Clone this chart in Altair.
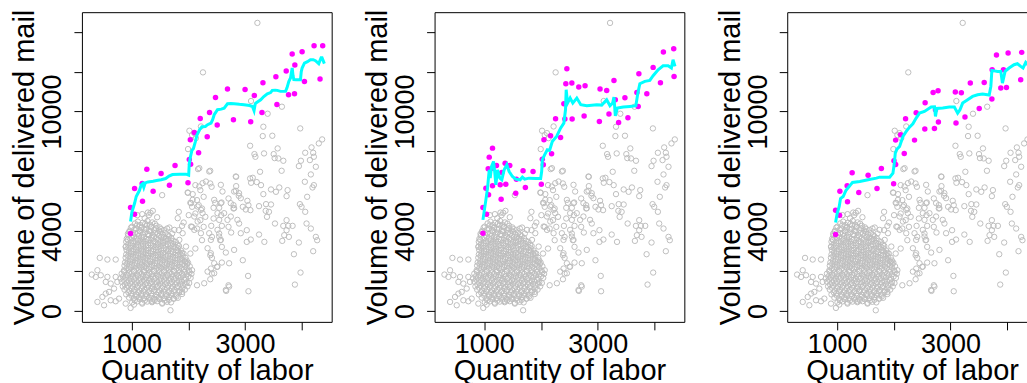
import altair as alt
import pandas as pd

FONT = "Liberation Sans"
X_DOMAIN = [125, 4526]
Y_DOMAIN = [-547, 14981]

# ---- observed offices: (quantity of labor, volume of delivered mail) ----
# dense core of small offices
core_offices = [
    (1110, 4480), (1195, 4420), (1280, 4510), (1365, 4440),
    (1010, 4230), (1095, 4290), (1180, 4210), (1270, 4300), (1350, 4240), (1440, 4270), (1495, 4190),
    (965, 4020), (1050, 4090), (1140, 4040), (1225, 4100), (1310, 4010), (1400, 4080), (1480, 4030), (1570, 4060),
    (935, 3870), (1020, 3820), (1110, 3890), (1195, 3830), (1290, 3860), (1370, 3810), (1460, 3880), (1545, 3840), (1640, 3800),
    (915, 3620), (1000, 3680), (1085, 3630), (1175, 3690), (1260, 3610), (1350, 3670), (1440, 3640), (1520, 3700), (1610, 3620), (1700, 3660),
    (905, 3470), (990, 3420), (1070, 3490), (1160, 3430), (1245, 3480), (1335, 3410), (1420, 3470), (1510, 3440), (1600, 3490), (1685, 3420), (1780, 3460),
    (900, 3230), (985, 3280), (1075, 3220), (1165, 3270), (1250, 3240), (1340, 3290), (1425, 3210), (1515, 3260), (1600, 3230), (1690, 3280), (1775, 3220), (1835, 3260),
    (910, 3070), (995, 3020), (1080, 3080), (1170, 3030), (1255, 3060), (1345, 3010), (1430, 3070), (1520, 3040), (1610, 3080), (1700, 3020), (1785, 3050), (1870, 3030),
    (905, 2830), (990, 2880), (1075, 2820), (1160, 2870), (1250, 2840), (1335, 2890), (1425, 2810), (1510, 2860), (1600, 2830), (1685, 2880), (1775, 2820), (1860, 2850), (1915, 2880),
    (895, 2670), (980, 2620), (1070, 2680), (1155, 2630), (1245, 2660), (1330, 2610), (1420, 2670), (1505, 2640), (1595, 2690), (1680, 2620), (1770, 2660), (1855, 2630), (1950, 2670),
    (885, 2430), (970, 2480), (1060, 2420), (1150, 2470), (1235, 2440), (1325, 2490), (1410, 2410), (1500, 2460), (1590, 2430), (1675, 2480), (1765, 2420), (1850, 2450), (1940, 2480), (1995, 2420),
    (875, 2270), (960, 2220), (1050, 2280), (1140, 2230), (1225, 2260), (1315, 2210), (1400, 2270), (1490, 2240), (1580, 2290), (1665, 2220), (1755, 2260), (1845, 2230), (1935, 2270), (2025, 2240),
    (865, 2030), (950, 2080), (1040, 2020), (1130, 2070), (1215, 2040), (1305, 2090), (1395, 2010), (1480, 2060), (1570, 2030), (1660, 2080), (1745, 2020), (1835, 2050), (1925, 2080), (2010, 2030),
    (825, 1870), (910, 1820), (1000, 1880), (1090, 1830), (1175, 1860), (1265, 1810), (1355, 1870), (1440, 1840), (1530, 1890), (1620, 1820), (1705, 1860), (1795, 1830), (1885, 1870), (1970, 1840), (2055, 1860),
    (805, 1630), (895, 1680), (985, 1620), (1070, 1670), (1160, 1640), (1250, 1690), (1335, 1610), (1425, 1660), (1515, 1630), (1600, 1680), (1690, 1620), (1780, 1650), (1865, 1680), (1955, 1630), (2040, 1660),
    (825, 1470), (915, 1420), (1000, 1480), (1090, 1430), (1180, 1460), (1265, 1410), (1355, 1470), (1445, 1440), (1530, 1490), (1620, 1420), (1710, 1460), (1795, 1430), (1885, 1470), (1970, 1440), (2015, 1400),
    (845, 1230), (930, 1280), (1020, 1220), (1110, 1270), (1195, 1240), (1285, 1290), (1375, 1210), (1460, 1260), (1550, 1230), (1640, 1280), (1725, 1220), (1815, 1250), (1905, 1280), (1985, 1230),
    (875, 1070), (960, 1020), (1050, 1080), (1140, 1030), (1225, 1060), (1315, 1010), (1400, 1070), (1490, 1040), (1580, 1090), (1665, 1020), (1755, 1060), (1845, 1030), (1940, 1070),
    (905, 830), (990, 880), (1080, 820), (1170, 870), (1255, 840), (1345, 890), (1435, 810), (1520, 860), (1610, 830), (1700, 880), (1785, 820), (1890, 850),
    (955, 670), (1040, 620), (1130, 680), (1220, 630), (1305, 660), (1395, 610), (1480, 670), (1570, 640), (1660, 690), (1745, 620), (1815, 660),
    (1010, 430), (1100, 480), (1185, 420), (1275, 470), (1360, 440), (1450, 490), (1540, 410), (1625, 460), (1695, 430),
]

# further offices packed between the ones above
core_offices_inner = [
    (1060, 4390), (1150, 4310), (1240, 4370), (1320, 4330), (1410, 4380),
    (990, 4180), (1080, 4110), (1170, 4160), (1260, 4120), (1345, 4190), (1430, 4140), (1520, 4100),
    (960, 3960), (1055, 3910), (1150, 3980), (1240, 3930), (1330, 3990), (1420, 3920), (1510, 3970), (1600, 3900),
    (940, 3780), (1040, 3720), (1130, 3760), (1215, 3700), (1305, 3790), (1395, 3730), (1485, 3770), (1575, 3710), (1660, 3750),
    (930, 3560), (1030, 3510), (1120, 3590), (1205, 3530), (1295, 3570), (1385, 3500), (1470, 3580), (1560, 3540), (1645, 3600), (1735, 3520),
    (940, 3330), (1030, 3390), (1115, 3320), (1200, 3370), (1290, 3310), (1380, 3380), (1465, 3340), (1555, 3400), (1640, 3330), (1730, 3360), (1810, 3310),
    (945, 3170), (1035, 3110), (1120, 3190), (1210, 3130), (1295, 3160), (1385, 3100), (1470, 3180), (1565, 3140), (1650, 3120), (1740, 3190), (1820, 3140),
    (950, 2940), (1030, 2980), (1120, 2920), (1205, 2970), (1290, 2910), (1380, 2990), (1470, 2950), (1555, 2920), (1645, 2980), (1730, 2940), (1820, 2970), (1890, 2910),
    (940, 2770), (1025, 2720), (1115, 2780), (1200, 2730), (1290, 2760), (1375, 2710), (1465, 2790), (1550, 2740), (1640, 2770), (1725, 2720), (1815, 2780), (1900, 2740),
    (930, 2530), (1015, 2580), (1105, 2520), (1195, 2570), (1280, 2540), (1370, 2590), (1455, 2520), (1545, 2560), (1635, 2530), (1720, 2580), (1810, 2540), (1895, 2570), (1970, 2530),
    (920, 2370), (1005, 2320), (1095, 2380), (1185, 2330), (1270, 2360), (1360, 2310), (1445, 2390), (1535, 2340), (1625, 2370), (1710, 2320), (1800, 2380), (1890, 2340), (1980, 2360),
    (910, 2130), (995, 2180), (1085, 2120), (1175, 2170), (1260, 2140), (1350, 2190), (1440, 2120), (1525, 2160), (1615, 2130), (1700, 2180), (1790, 2120), (1880, 2150), (1970, 2170),
    (870, 1970), (955, 1920), (1045, 1980), (1135, 1930), (1220, 1960), (1310, 1910), (1400, 1990), (1485, 1940), (1575, 1970), (1665, 1920), (1750, 1980), (1840, 1930), (1930, 1960), (2020, 1940),
    (850, 1730), (940, 1780), (1030, 1720), (1115, 1770), (1205, 1740), (1295, 1790), (1380, 1720), (1470, 1760), (1560, 1730), (1645, 1780), (1735, 1720), (1825, 1750), (1910, 1780), (2000, 1730),
    (860, 1570), (950, 1520), (1045, 1580), (1135, 1530), (1220, 1560), (1310, 1510), (1400, 1590), (1490, 1540), (1575, 1570), (1665, 1520), (1750, 1580), (1840, 1530), (1930, 1560),
    (880, 1330), (975, 1380), (1065, 1320), (1155, 1370), (1240, 1340), (1330, 1390), (1420, 1320), (1505, 1360), (1595, 1330), (1685, 1380), (1770, 1320), (1860, 1350), (1950, 1370),
    (910, 1170), (1005, 1120), (1095, 1180), (1180, 1130), (1270, 1160), (1360, 1110), (1445, 1190), (1535, 1140), (1625, 1170), (1710, 1120), (1800, 1180), (1890, 1130),
    (945, 930), (1035, 980), (1125, 920), (1210, 970), (1300, 940), (1390, 990), (1475, 920), (1565, 960), (1655, 930), (1740, 980), (1840, 940),
    (1000, 770), (1085, 720), (1175, 780), (1265, 730), (1350, 760), (1440, 710), (1525, 790), (1615, 740), (1705, 770), (1790, 720),
    (1055, 530), (1145, 580), (1230, 520), (1320, 570), (1405, 540), (1495, 590), (1585, 520), (1660, 560),
]

# small offices outside the core
small_offices = [
    (439, 2661), (574, 2578), (720, 2578), (398, 2042), (457, 1791), (299, 1825), (369, 1708),
    (574, 1708), (720, 1708), (545, 1457), (632, 1373), (749, 1457), (691, 1122), (603, 955),
    (545, 871), (486, 704), (398, 453), (515, 286), (632, 536), (720, 486), (779, 620),
    (896, 3213), (896, 369), (1042, 319), (1188, 369), (1364, 486), (1539, 369), (1685, 35), (983, 152),
    (1627, 4133), (1715, 3882), (1832, 4050), (1890, 4267), (2066, 4217), (2153, 4133), (2270, 4217),
    (2241, 3548), (2124, 3130), (2036, 2879), (1949, 2460), (2066, 2042), (2153, 1289), (1890, 955), (1744, 620),
    (1813, 4651), (1918, 4434), (1900, 3898), (1754, 4065), (1667, 4183), (1842, 3563), (1959, 3229),
    (1287, 4935), (1374, 5019), (1450, 4700), (1230, 4650),
    (1539, 5807), (1832, 4971), (1334, 4921), (1188, 4854), (1100, 4804), (1305, 4804),
]

# medium offices around 2000-3000 labor
medium_offices = [
    (2019, 9036), (2066, 8819), (1995, 8116), (2171, 7112), (1995, 5925), (2124, 6309), (2077, 5858),
    (2212, 6058), (2270, 5724), (2153, 5557), (2036, 5423), (2183, 5306), (2066, 5222), (2241, 5138),
    (2124, 4888), (2007, 4804), (2300, 4720), (2212, 4553),
    (2105, 8917), (2222, 9252), (2134, 8666), (2193, 7160), (2368, 6993), (2310, 6491), (2251, 6408),
    (2193, 6240), (1988, 5939), (2076, 5571), (2047, 5404), (2164, 5236), (2222, 5069), (2251, 4902),
    (2105, 4735), (2164, 4484), (2047, 4233), (2105, 4065), (2222, 3898), (2368, 3898), (2397, 3563),
    (2339, 3145), (2397, 2894), (2456, 2392), (2514, 2225), (2339, 1974), (2456, 1890), (2280, 1389),
    (2573, 6324), (2602, 5989), (2456, 5571), (2573, 5404), (2514, 4902), (2631, 4902), (2544, 4567),
    (2690, 4567), (2748, 5404), (2807, 5989), (2894, 5906), (2836, 6742), (2924, 5655), (2807, 5153),
    (2748, 4735), (2865, 4567), (2924, 3898), (2807, 3062), (2719, 2392), (2661, 1054), (2719, 1221),
    (2544, 3731), (2573, 3563), (2514, 4065),
]

# large offices
large_offices = [
    (3217, 14443), (2258, 11963), (3105, 10527), (3398, 9889), (3649, 10241),
    (3322, 9237), (3480, 8785), (3311, 8769), (3972, 9153), (3089, 8283), (4358, 8601), (4299, 8401),
    (4171, 8200), (4060, 7932), (4200, 7932), (4212, 7731), (4142, 7564), (3984, 7531), (3948, 7263),
    (4247, 7230), (3574, 8150), (3504, 7865), (3334, 7899), (3165, 7865), (3182, 7731), (3521, 7664),
    (3586, 7648), (3674, 7531), (3644, 7029), (3264, 6979), (2386, 7029), (2843, 6728), (3089, 6644),
    (3135, 6677), (3106, 6427), (3206, 6460), (3281, 6309), (4053, 6477), (4159, 6845), (4212, 6309),
    (4188, 6192), (4094, 5724), (3749, 6058), (3731, 5757), (3603, 6192), (3544, 5975), (3457, 6092),
    (3322, 5858), (2843, 6259), (2837, 6025), (2889, 5774), (2708, 5640), (2585, 5439), (2544, 5172),
    (2474, 5423), (2445, 5172), (2386, 6393), (2410, 6226), (2796, 5306), (2796, 5138), (2960, 5222),
    (3041, 5523), (3059, 5306), (3012, 5088), (3094, 5055), (3246, 5255), (3369, 5356), (3457, 5339),
    (3363, 5021), (3421, 4971), (3386, 4720), (3966, 5356), (3995, 5222), (4060, 4971), (3731, 4553),
    (2579, 4804), (2445, 4636),
    (2404, 4267), (2591, 4267), (2708, 4217), (2895, 4384), (3030, 4050), (2755, 3933), (2544, 3882),
    (2416, 3715), (2562, 3548), (2591, 3213), (2661, 2929), (2387, 2795), (2416, 2661), (2591, 2427),
    (2504, 2209), (2398, 2126), (2416, 1875), (2387, 1590), (2708, 1289), (2667, 1005), (2960, 2544),
    (3053, 1758), (3059, 988), (3030, 3464), (3100, 3581), (3246, 3832), (3340, 3464), (3527, 4384),
    (3673, 4267), (3761, 4267), (3837, 4267), (3731, 4050), (3690, 3799), (3772, 3715), (3655, 3514),
    (3948, 3431), (4083, 4384), (4159, 4133), (4247, 3715), (4270, 3548), (4200, 2996), (3861, 2845),
    (3977, 1925), (3878, 1323),
]

# ---- frontier points and frontier estimate for each of the three methods ----
frontier_dots_1 = [
    (982, 3881), (982, 5186), (1053, 4852), (1053, 6140), (1187, 6391), (1193, 5504), (1269, 7110),
    (1380, 6006), (1520, 6893), (1667, 6307), (1766, 7294), (1994, 6424), (2017, 7595), (2041, 7361),
    (2035, 8582), (2105, 8951), (2181, 7930), (2210, 9653), (2333, 8733), (2374, 9954), (2479, 10707),
    (2509, 9319), (2690, 11125), (2795, 9586), (3000, 11109), (3099, 9486), (3163, 10808), (3298, 9954),
    (3315, 11443), (3543, 11744), (3561, 10356), (3725, 12029), (3766, 10841), (3830, 12882),
    (3877, 12330), (3871, 10891), (4005, 12999), (4046, 11510), (4216, 13300), (4368, 13300), (4321, 11627),
]
frontier_line_1 = [
    (982, 4484), (1005, 4950), (1053, 5400), (1082, 5740), (1140, 6050), (1170, 6320), (1195, 6380),
    (1215, 6200), (1240, 6420), (1290, 6470), (1380, 6500), (1440, 6540), (1520, 6580), (1600, 6640),
    (1660, 6760), (1720, 6840), (1850, 6850), (1960, 6860), (2006, 6810), (2017, 7400), (2035, 7700),
    (2064, 8060), (2090, 8150), (2123, 8480), (2152, 8820), (2200, 9100), (2240, 9235), (2300, 9250),
    (2339, 9340), (2400, 9420), (2430, 9600), (2456, 9840), (2514, 10090), (2580, 10120), (2631, 10170),
    (2690, 10390), (2750, 10400), (2807, 10390), (2900, 10360), (2982, 10340), (3080, 10300),
    (3130, 10250), (3158, 10040), (3180, 10400), (3230, 10500), (3275, 10590), (3330, 10750),
    (3392, 10890), (3450, 10950), (3479, 11060), (3530, 11070), (3567, 11060), (3625, 11010),
    (3713, 11010), (3740, 11200), (3770, 11500), (3801, 11680), (3830, 12180), (3845, 11800),
    (3859, 11600), (3900, 11590), (3976, 11590), (3990, 12000), (4005, 12180), (4046, 12430),
    (4100, 12500), (4151, 12600), (4200, 12600), (4240, 12550), (4298, 12400), (4340, 12700),
    (4356, 12700), (4397, 12400),
]

frontier_dots_2 = [
    (977, 3898), (977, 5186), (1041, 4852), (1029, 6157), (1076, 5822), (1070, 7127), (1088, 7713),
    (1146, 8164), (1146, 7160), (1146, 6274), (1216, 7294), (1281, 6324), (1298, 5605), (1310, 6943),
    (1368, 7411), (1380, 6357), (1450, 7294), (1555, 5906), (1567, 6608), (1684, 7027), (1725, 6190),
    (1860, 6993), (2006, 6357), (2023, 7612), (2041, 7328), (2052, 8582), (2169, 8783), (2187, 7880),
    (2257, 9636), (2345, 8700), (2403, 10389), (2421, 9620), (2438, 11393), (2456, 12146),
    (2544, 11426), (2549, 9620), (2666, 11226), (2760, 9770), (2777, 11293), (3029, 9503),
    (3041, 11125), (3158, 11059), (3198, 9871), (3286, 11560), (3310, 10590), (3368, 9452),
    (3479, 10690), (3532, 9687), (3690, 10958), (3713, 10255), (3725, 11895), (3865, 10891),
    (3976, 12213), (4105, 11443), (4157, 12982), (4339, 13150), (4345, 11761),
]
frontier_line_2 = [
    (977, 4567), (1029, 5571), (1058, 6157), (1088, 7077), (1105, 6659), (1129, 7244), (1164, 7495),
    (1187, 6910), (1205, 6324), (1234, 7077), (1275, 6659), (1310, 6575), (1351, 7077), (1398, 7328),
    (1439, 6993), (1497, 6742), (1555, 6608), (1631, 6575), (1672, 6709), (1713, 6608), (1789, 6659),
    (1906, 6642), (1994, 6642), (2012, 6993), (2023, 7579), (2064, 7830), (2111, 8081), (2152, 8047),
    (2199, 8499), (2275, 8750), (2345, 9168), (2403, 9419), (2432, 10088), (2444, 11092),
    (2468, 10423), (2514, 10674), (2561, 10423), (2631, 10674), (2701, 10339), (2807, 10289),
    (2982, 10339), (3070, 10322), (3158, 10590), (3216, 10289), (3263, 10423), (3286, 10724),
    (3310, 9787), (3345, 10172), (3450, 10222), (3567, 10255), (3672, 10289), (3707, 10925),
    (3742, 11393), (3830, 11510), (3918, 11560), (3976, 11794), (4064, 12096), (4152, 12296),
    (4240, 12296), (4298, 12180), (4327, 12598), (4362, 12263),
]

frontier_dots_3 = [
    (977, 3831), (977, 5052), (1047, 4801), (1053, 6006), (1181, 6274), (1187, 5471), (1269, 6926),
    (1386, 5939), (1550, 6809), (1707, 6140), (1784, 7144), (2000, 6374), (2006, 7529), (2035, 7344),
    (2035, 8566), (2123, 8833), (2187, 7897), (2210, 9636), (2368, 8566), (2397, 9938), (2549, 9118),
    (2555, 10439), (2719, 9151), (2737, 10088), (2696, 10958), (2783, 11042), (2789, 9469),
    (3087, 10975), (3099, 9419), (3193, 10941), (3257, 9720), (3351, 11426), (3508, 10155),
    (3596, 11460), (3731, 10623), (3736, 12096), (3812, 12832), (3888, 11176), (3935, 12096),
    (3988, 11209), (4017, 12932), (4239, 11594), (4257, 12966),
]
frontier_line_3 = [
    (977, 4433), (1006, 4902), (1041, 5236), (1064, 5638), (1111, 5738), (1158, 6039), (1216, 6240),
    (1240, 6324), (1275, 6441), (1403, 6491), (1550, 6575), (1696, 6659), (1754, 6709), (1930, 6709),
    (1988, 6910), (2012, 7411), (2029, 7913), (2058, 8114), (2105, 8248), (2134, 8499), (2164, 8750),
    (2222, 9001), (2280, 9218), (2339, 9385), (2397, 9670), (2456, 9921), (2543, 10005), (2661, 10222),
    (2720, 10230), (2737, 9754), (2760, 10155), (2865, 10172), (2982, 10222), (3070, 10222),
    (3128, 9921), (3169, 10088), (3216, 10423), (3304, 10590), (3391, 10757), (3479, 10841),
    (3567, 10875), (3684, 10824), (3713, 11259), (3731, 12062), (3830, 12012), (3888, 12012),
    (3917, 11426), (3964, 12012), (4034, 12180), (4122, 12347), (4181, 12397), (4239, 12263),
    (4280, 12180), (4327, 12464), (4380, 12300),
]


def to_frame(pairs):
    df = pd.DataFrame(pairs, columns=["labor", "mail"])
    df["step"] = range(len(df))
    return df


offices = to_frame(core_offices + core_offices_inner + small_offices + medium_offices + large_offices)

x_axis = alt.Axis(
    values=[1000, 2000, 3000, 4000],
    labelExpr="datum.value == 1000 || datum.value == 3000 ? datum.label : ''",
    format="d",
    title="Quantity of labor",
    grid=False, domain=False,
    ticks=True, tickSize=8, tickColor="black", tickWidth=1,
    labelFont=FONT, labelFontSize=27, labelColor="black",
    labelPadding=22.5, labelBaseline="alphabetic", labelAlign="center",
    labelOverlap=False, labelFlush=False,
    titleFont=FONT, titleFontSize=29, titleFontWeight="normal", titleColor="black",
    titleX=125, titleY=58, titleAlign="center", titleBaseline="alphabetic",
)

y_axis = alt.Axis(
    values=[0, 2000, 4000, 6000, 8000, 10000, 12000, 14000],
    labelExpr="datum.value == 0 || datum.value == 4000 || datum.value == 10000 ? datum.label : ''",
    format="d",
    title="Volume of delivered mail",
    grid=False, domain=False,
    ticks=True, tickSize=8, tickColor="black", tickWidth=1,
    labelFont=FONT, labelFontSize=27, labelColor="black",
    labelAngle=270, labelPadding=13, labelBaseline="alphabetic", labelAlign="center",
    labelOverlap=False, labelFlush=False,
    titleFont=FONT, titleFontSize=29, titleFontWeight="normal", titleColor="black",
    titleAngle=270, titleX=-48, titleY=155, titleAlign="center", titleBaseline="alphabetic",
)

x_enc = alt.X("labor:Q", scale=alt.Scale(domain=X_DOMAIN, nice=False, zero=False), axis=x_axis)
y_enc = alt.Y("mail:Q", scale=alt.Scale(domain=Y_DOMAIN, nice=False, zero=False), axis=y_axis)


def panel(dots, path):
    cloud = alt.Chart(offices).mark_point(
        shape="circle", filled=False, color="#BEBEBE", size=29, strokeWidth=1, opacity=1, clip=True
    ).encode(x=x_enc, y=y_enc)
    points = alt.Chart(to_frame(dots)).mark_circle(
        color="#FF00FF", size=30, opacity=1, clip=True
    ).encode(x=x_enc, y=y_enc)
    line = alt.Chart(to_frame(path)).mark_line(
        color="#00FFFF", strokeWidth=3, clip=True
    ).encode(x=x_enc, y=y_enc, order="step:Q")
    return alt.layer(cloud, points, line).properties(width=250, height=310)


chart = alt.hconcat(
    panel(frontier_dots_1, frontier_line_1),
    panel(frontier_dots_2, frontier_line_2),
    panel(frontier_dots_3, frontier_line_3),
    spacing=103,
    bounds="flush",
).properties(
    padding={"left": 10, "top": 8, "right": -11, "bottom": -2},
    background="white",
).configure_view(stroke="black", strokeWidth=1)

chart.save("out.html", embed_options={"renderer": "svg", "actions": False})
